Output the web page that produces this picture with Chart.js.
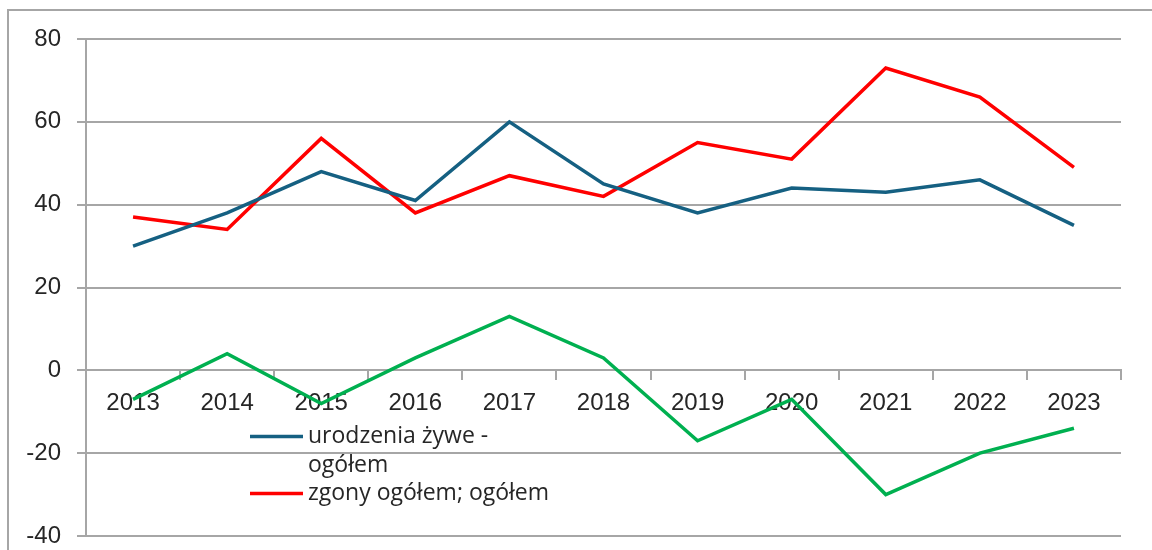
<!DOCTYPE html>
<html>
<head>
<meta charset="utf-8">
<script src="https://cdn.jsdelivr.net/npm/chart.js@4"></script>
<style>
  html, body { margin: 0; padding: 0; background: #fff; }
  .wrap { position: relative; width: 1152px; height: 550px; overflow: hidden; }
  .frame { position: absolute; left: 7px; top: 9px; width: 1200px; height: 600px;
           border-top: 2px solid #a6a6a6; border-left: 2px solid #a6a6a6; }
  canvas { position: absolute; left: 0; top: 0; }
</style>
</head>
<body>
<div class="wrap">
  <div class="frame"></div>
  <canvas id="chart" width="1152" height="550"></canvas>
</div>
<script>
// lata
const years = ['2013', '2014', '2015', '2016', '2017', '2018', '2019', '2020', '2021', '2022', '2023'];

// serie
const births = [30, 38, 48, 41, 60, 45, 38, 44, 43, 46, 35];
const deaths = [37, 34, 56, 38, 47, 42, 55, 51, 73, 66, 49];
const growth = [-7, 4, -8, 3, 13, 3, -17, -7, -30, -20, -14];

const seriesLabels = ['urodzenia żywe - ogółem', 'zgony ogółem; ogółem', 'przyrost naturalny'];
const seriesColors = ['#156082', '#ff0000', '#00b050'];

const yMin = -40;
const yMax = 80;
const yStep = 20;

const gridColor = '#a6a6a6';
const textColor = '#262626';

// legenda rysowana w obszarze wykresu (tylko dwie pierwsze serie, jak w oryginale)
const insideLegend = {
    id: 'insideLegend',
    afterDraw(chart) {
        const ctx = chart.ctx;
        const x0 = 250, lineLen = 53, textX = 308, maxW = 205;
        let y = 436.5;
        ctx.save();
        ctx.font = '23px "Open Sans", "Liberation Sans", sans-serif';
        ctx.textBaseline = 'middle';
        ctx.fillStyle = textColor;
        chart.data.datasets.slice(0, 2).forEach((ds, k) => {
            ctx.strokeStyle = ds.borderColor;
            ctx.lineWidth = 3.5;
            ctx.beginPath();
            ctx.moveTo(x0, y);
            ctx.lineTo(x0 + lineLen, y);
            ctx.stroke();
            // zawijanie tekstu (druga pozycja mieści się w jednej linii)
            const limit = k === 0 ? maxW : 400;
            const words = ds.label.split(' ');
            let line = '';
            const lines = [];
            words.forEach(w => {
                const test = line ? line + ' ' + w : w;
                if (ctx.measureText(test).width > limit && line) {
                    lines.push(line);
                    line = w;
                } else {
                    line = test;
                }
            });
            lines.push(line);
            lines.forEach((l, i) => {
                ctx.fillText(l, textX, y + i * 28.5);
            });
            y += lines.length * 28.5;
        });
        ctx.restore();
    }
};

const datasets = [births, deaths, growth].map((values, i) => ({
    label: seriesLabels[i],
    data: values,
    borderColor: seriesColors[i],
    backgroundColor: seriesColors[i],
    borderWidth: 3.5,
    pointRadius: 0,
    tension: 0,
    fill: false
}));

new Chart(document.getElementById('chart').getContext('2d'), {
    type: 'line',
    data: { labels: years, datasets: datasets },
    options: {
        responsive: false,
        animation: false,
        layout: { padding: { top: 39, right: 31, bottom: 14, left: 0 } },
        plugins: {
            legend: { display: false },
            tooltip: { enabled: false }
        },
        scales: {
            x: {
                position: { y: 0 },
                offset: true,
                afterFit(scale) {
                    scale.paddingTop = 0;
                    scale.paddingBottom = 0;
                    scale.height = 0;
                },
                grid: {
                    offset: true,
                    drawOnChartArea: false,
                    drawTicks: true,
                    tickLength: 9,
                    color: gridColor,
                    lineWidth: 2
                },
                border: { display: true, color: gridColor, width: 2 },
                ticks: {
                    color: textColor,
                    padding: 10,
                    maxRotation: 0,
                    font: { family: '"Liberation Sans", Arial, sans-serif', size: 24 }
                }
            },
            y: {
                min: yMin,
                max: yMax,
                afterFit(scale) {
                    scale.width = 86;
                    scale.paddingBottom = 0;
                },
                grid: {
                    color: gridColor,
                    lineWidth: 2,
                    tickLength: 9
                },
                border: { display: true, color: gridColor, width: 2 },
                ticks: {
                    stepSize: yStep,
                    color: textColor,
                    padding: 16,
                    font: { family: '"Liberation Sans", Arial, sans-serif', size: 24 }
                }
            }
        }
    },
    plugins: [insideLegend]
});
</script>
</body>
</html>
